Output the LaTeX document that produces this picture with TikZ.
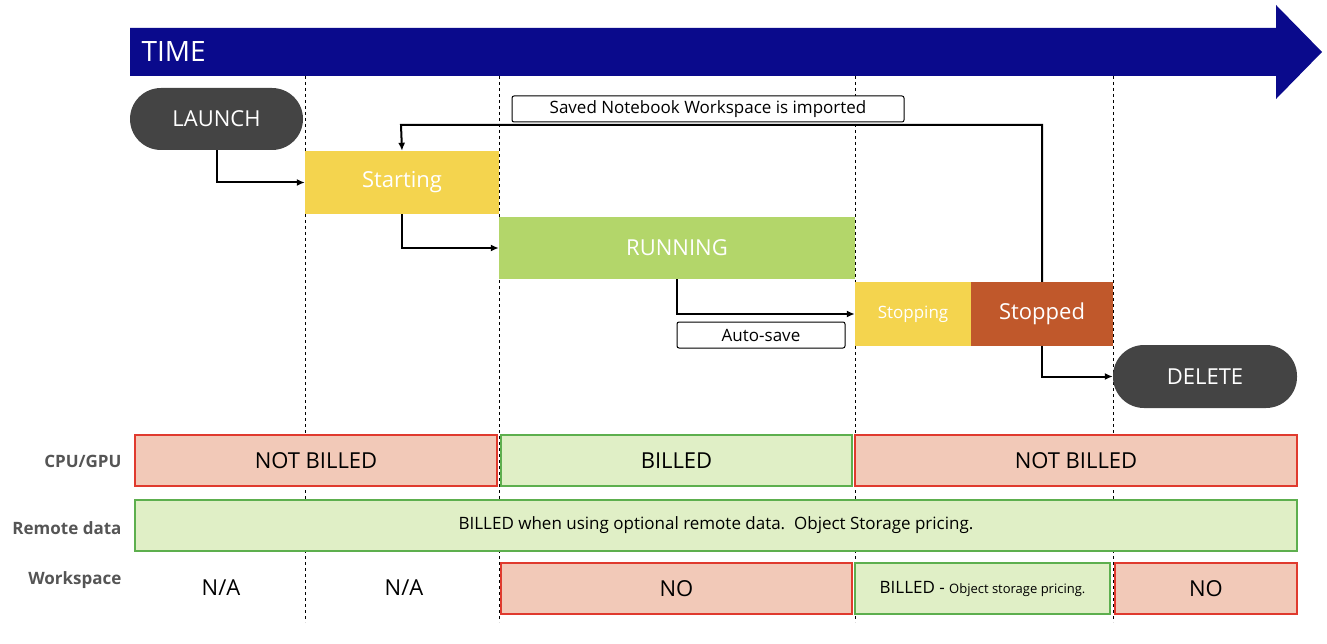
\documentclass[tikz,border=0pt]{standalone}
\usepackage{fontspec}
\setmainfont{Open Sans}
\usetikzlibrary{arrows.meta}
\definecolor{tblue}{HTML}{0A0A8C}
\definecolor{pill}{HTML}{444444}
\definecolor{yel}{HTML}{F4D44E}
\definecolor{grn}{HTML}{B3D66A}
\definecolor{org}{HTML}{C0582B}
\definecolor{redb}{HTML}{E03A2E}
\definecolor{redf}{HTML}{F2C9B8}
\definecolor{grnb}{HTML}{5DAF4E}
\definecolor{grnf}{HTML}{E0EFC6}
\definecolor{lbl}{HTML}{555555}
\begin{document}
\begin{tikzpicture}[x=1pt,y=-1pt,
  st/.style={draw=none,inner sep=0,text=white,font=\fontsize{22}{24}\selectfont},
  pl/.style={st,fill=pill,rounded corners=31pt},
  cn/.style={-{Latex[length=8pt,width=7pt]},line width=2pt},
  tag/.style={draw,line width=1pt,rounded corners=2pt,fill=white,inner sep=0,font=\fontsize{17}{19}\selectfont},
  rb/.style={draw=redb,fill=redf,line width=2.5pt,inner sep=0,font=\fontsize{22}{24}\selectfont},
  gb/.style={draw=grnb,fill=grnf,line width=2.5pt,inner sep=0,font=\fontsize{22}{24}\selectfont},
  rl/.style={anchor=east,text=lbl,font=\bfseries\fontsize{17}{19}\selectfont},
  dl/.style={dashed,line width=0.6pt}]
\useasboundingbox (0,0) rectangle (1327,644);
\fill[tblue] (130,28) -- (1276,28) -- (1276,5) -- (1322,52) -- (1276,99) -- (1276,76) -- (130,76) -- cycle;
\node[anchor=west,text=white,font=\fontsize{28}{30}\selectfont] (time) at (138,52) {TIME};
\foreach \x in {305,499,855,1113} \draw[dl] (\x,76) -- (\x,622);
\node[pl,minimum width=173pt,minimum height=62pt] (launch) at (216.5,119) {LAUNCH};
\node[st,fill=yel,minimum width=194pt,minimum height=63pt] (start) at (402,182.5) {Starting};
\node[st,fill=grn,minimum width=356pt,minimum height=62pt] (run) at (677,248) {RUNNING};
\node[st,fill=yel,minimum width=116pt,minimum height=64pt,font=\fontsize{17}{19}\selectfont] (stopping) at (913,314) {Stopping};
\node[st,fill=org,minimum width=142pt,minimum height=64pt] (stopped) at (1042,314) {Stopped};
\node[pl,minimum width=184pt,minimum height=63pt] (del) at (1205,376.5) {DELETE};
\draw[cn] (launch.south) |- (start.west);
\draw[cn] (start.south) |- (run.west);
\draw[cn] (run.south) |- (stopping.west);
\draw[cn] (stopped.south) |- (del.west);
\draw[cn] (stopped.north) -- (1042,125) -- (401,125) -- (start.north);
\node[tag,minimum width=392pt,minimum height=26pt] (saved) at (708,109) {Saved Notebook Workspace is imported};
\node[tag,minimum width=168pt,minimum height=26pt] (auto) at (761,335) {Auto-save};
\node[rl] (l1) at (125,461) {CPU/GPU};
\node[rl] (l2) at (125,528) {Remote data};
\node[rl] (l3) at (125,580) {Workspace};
\node[rb,minimum width=362pt,minimum height=51pt] (c1) at (316,460.5) {NOT BILLED};
\node[gb,minimum width=351pt,minimum height=51pt] (c2) at (676.5,460.5) {BILLED};
\node[rb,minimum width=442pt,minimum height=51pt] (c3) at (1076,460.5) {NOT BILLED};
\node[gb,minimum width=1162pt,minimum height=51pt,font=\fontsize{17}{19}\selectfont] (r1) at (716,525.5) {BILLED when using optional remote data.\ \ Object Storage pricing.};
\node[font=\fontsize{22}{24}\selectfont] (na1) at (221,588) {N/A};
\node[font=\fontsize{22}{24}\selectfont] (na2) at (404,588) {N/A};
\node[rb,minimum width=351pt,minimum height=51pt] (w1) at (676.5,588.5) {NO};
\node[gb,minimum width=255pt,minimum height=51pt,font=\fontsize{17}{19}\selectfont] (w2) at (982.5,588.5) {BILLED - {\fontsize{13}{15}\selectfont Object storage pricing.}};
\node[rb,minimum width=182pt,minimum height=51pt] (w3) at (1206,588.5) {NO};
\end{tikzpicture}
\end{document}
